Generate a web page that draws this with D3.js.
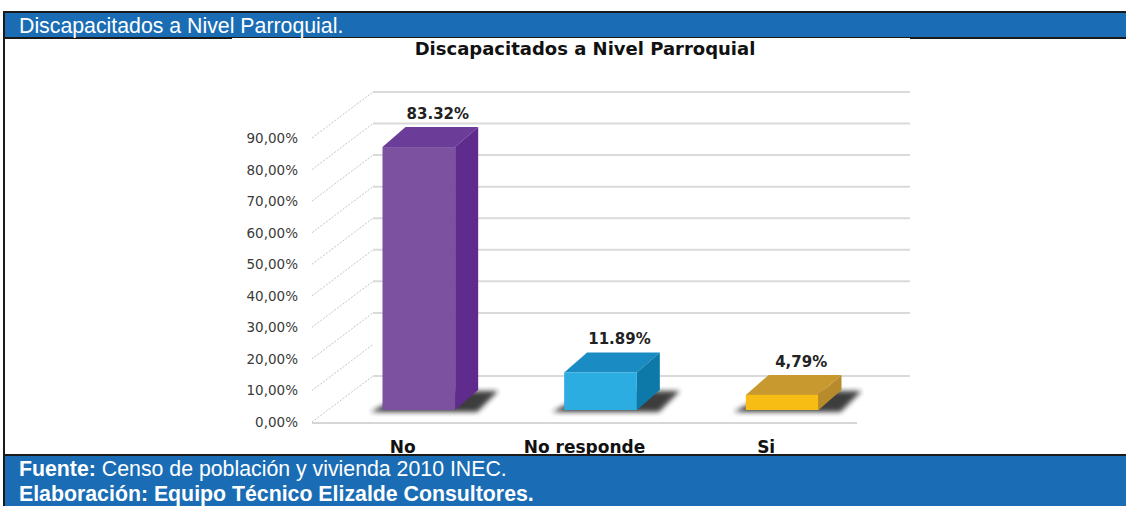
<!DOCTYPE html>
<html><head><meta charset="utf-8">
<script src="https://cdn.jsdelivr.net/npm/d3@7/dist/d3.min.js"></script>
<style>body{margin:0;background:#fff}svg{display:block}</style>
</head><body>
<script>
// ---- data ----
const categories = ["No", "No responde", "Si"];
const values = [83.32, 11.89, 4.79];
const valueLabels = ["83.32%", "11.89%", "4,79%"];
const tickValues = [0, 10, 20, 30, 40, 50, 60, 70, 80, 90];
const tickLabels = ["0,00%", "10,00%", "20,00%", "30,00%", "40,00%", "50,00%", "60,00%", "70,00%", "80,00%", "90,00%"];
const backGridValues = [0, 20, 30, 40, 50, 60, 70, 80, 90];
const chartTitle = "Discapacitados a Nivel Parroquial";
const headerText = "Discapacitados a Nivel Parroquial.";
const sourceLabel = "Fuente:";
const sourceText = " Censo de población y vivienda 2010 INEC.";
const creditText = "Elaboración: Equipo Técnico Elizalde Consultores.";

const faceColors = {
  "No": {front: "#7b51a0", top: "#6b3c98", side: "#5f2b8d"},
  "No responde": {front: "#2badE2", top: "#1a8bc3", side: "#0d79a9"},
  "Si": {front: "#f8bd14", top: "#c8992e", side: "#b78b2b"}
};

const W = 1126, H = 506;
const svg = d3.select("body").append("svg").attr("width", W).attr("height", H);

// ---- frame ----
const blue = "#1a6db5";
svg.append("rect").attr("x", 0).attr("y", 0).attr("width", W).attr("height", H).attr("fill", "#fff");
svg.append("rect").attr("x", 5).attr("y", 13).attr("width", W - 5).attr("height", 24).attr("fill", blue);
svg.append("rect").attr("x", 3).attr("y", 11).attr("width", W - 3).attr("height", 2).attr("fill", "#1a1a1a");
svg.append("rect").attr("x", 3).attr("y", 11).attr("width", 2).attr("height", H - 11).attr("fill", "#1a1a1a");
svg.append("rect").attr("x", 5).attr("y", 37).attr("width", W - 5).attr("height", 1).attr("fill", "#1a1a1a");
svg.append("rect").attr("x", 5).attr("y", 37).attr("width", 227).attr("height", 2).attr("fill", "#1a1a1a");
svg.append("rect").attr("x", 910).attr("y", 37).attr("width", W - 910).attr("height", 2).attr("fill", "#1a1a1a");
svg.append("text").attr("x", 19).attr("y", 33).attr("fill", "#fff")
  .style("font-family", "'Liberation Sans', Arial, sans-serif").style("font-size", "21.3px")
  .text(headerText);

// ---- chart geometry ----
const xFront = d3.scaleBand().domain(categories).range([312, 857]);
const yFront = d3.scaleLinear().domain([0, 90]).range([422, 138]);
const wallDepth = {dx: 61, dy: -46};
const barPlane = {dx: 16, dy: -12};
const barDepth = {dx: 23, dy: -20};
const barFrac = 0.4;
const backRight = 910;

const defs = svg.append("defs");
defs.append("filter").attr("id", "blur").attr("x", "-20%").attr("y", "-50%").attr("width", "140%").attr("height", "200%")
  .append("feGaussianBlur").attr("stdDeviation", 2.5);
defs.append("clipPath").attr("id", "chartClip")
  .append("rect").attr("x", 0).attr("y", 38).attr("width", W).attr("height", 416);

const g = svg.append("g").attr("clip-path", "url(#chartClip)");

// title
g.append("text").attr("x", 585).attr("y", 55).attr("text-anchor", "middle")
  .style("font-family", "'DejaVu Sans', sans-serif").style("font-weight", "bold").style("font-size", "18px")
  .attr("fill", "#111").text(chartTitle);

// back wall gridlines
g.selectAll("line.back").data(backGridValues).join("line")
  .attr("x1", 312 + wallDepth.dx).attr("x2", backRight)
  .attr("y1", d => yFront(d) + wallDepth.dy).attr("y2", d => yFront(d) + wallDepth.dy)
  .attr("stroke", "#dadada").attr("stroke-width", 2);

// left wall diagonals
g.selectAll("line.diag").data(tickValues).join("line")
  .attr("x1", 312).attr("y1", d => yFront(d))
  .attr("x2", 312 + wallDepth.dx).attr("y2", d => yFront(d) + wallDepth.dy)
  .attr("stroke", "#c4c4c4").attr("stroke-width", 1).attr("stroke-dasharray", "2,1.5");

// floor front edge
g.append("line").attr("x1", 312).attr("x2", 857).attr("y1", yFront(0) + 1).attr("y2", yFront(0) + 1)
  .attr("stroke", "#d6d6d6").attr("stroke-width", 2);

// tick labels
g.selectAll("text.tick").data(tickValues).join("text")
  .attr("x", 298).attr("y", d => yFront(d) + 5).attr("text-anchor", "end")
  .style("font-family", "'DejaVu Sans', sans-serif").style("font-size", "13.5px")
  .attr("fill", "#3a3a3a").text((d, i) => tickLabels[i]);

const bars = categories.map((c, i) => {
  const bw = xFront.bandwidth() * barFrac;
  const x0 = xFront(c) + (xFront.bandwidth() - bw) / 2 + barPlane.dx;
  const x1 = x0 + bw;
  const yb = yFront(0) + barPlane.dy;
  const yt = yFront(values[i]) + barPlane.dy;
  return {c, i, x0, x1, yb, yt};
});

// shadows
g.selectAll("polygon.shadow").data(bars).join("polygon")
  .attr("points", b => [
    [b.x0 - 12, b.yb + 2], [b.x1 + 22, b.yb + 2],
    [b.x1 + barDepth.dx + 20, b.yb + barDepth.dy + 1], [b.x0 + barDepth.dx + 4, b.yb + barDepth.dy + 1]
  ].map(p => p.join(",")).join(" "))
  .attr("fill", "#1e1e1e").attr("opacity", 0.85).attr("filter", "url(#blur)");

// bars: top, side, front
const bg = g.selectAll("g.bar").data(bars).join("g");
bg.append("polygon").attr("points", b => [
    [b.x0, b.yt], [b.x1, b.yt], [b.x1 + barDepth.dx, b.yt + barDepth.dy], [b.x0 + barDepth.dx, b.yt + barDepth.dy]
  ].map(p => p.join(",")).join(" ")).attr("fill", b => faceColors[b.c].top);
bg.append("polygon").attr("points", b => [
    [b.x1, b.yt], [b.x1 + barDepth.dx, b.yt + barDepth.dy], [b.x1 + barDepth.dx, b.yb + barDepth.dy], [b.x1, b.yb]
  ].map(p => p.join(",")).join(" ")).attr("fill", b => faceColors[b.c].side);
bg.append("rect").attr("x", b => b.x0).attr("y", b => b.yt).attr("width", b => b.x1 - b.x0)
  .attr("height", b => b.yb - b.yt).attr("fill", b => faceColors[b.c].front);

// value labels
g.selectAll("text.val").data(bars).join("text")
  .attr("x", b => (b.x0 + b.x1) / 2 + 19).attr("y", b => b.yt + barDepth.dy - 8)
  .attr("text-anchor", "middle")
  .style("font-family", "'DejaVu Sans', sans-serif").style("font-weight", "bold").style("font-size", "15px")
  .attr("fill", "#222").text(b => valueLabels[b.i]);

// category labels (cut off by the footer as in the source)
g.selectAll("text.cat").data(categories).join("text")
  .attr("x", d => xFront(d) + xFront.bandwidth() / 2).attr("y", 453).attr("text-anchor", "middle")
  .style("font-family", "'DejaVu Sans', sans-serif").style("font-weight", "bold").style("font-size", "17px")
  .attr("fill", "#111").text(d => d);

// ---- footer ----
svg.append("rect").attr("x", 5).attr("y", 455).attr("width", W - 5).attr("height", 51).attr("fill", blue);
svg.append("rect").attr("x", 5).attr("y", 454).attr("width", W - 5).attr("height", 2).attr("fill", "#1a1a1a");
const ft = svg.append("text").attr("x", 19).attr("y", 476).attr("fill", "#fff")
  .style("font-family", "'Liberation Sans', Arial, sans-serif").style("font-size", "21.3px");
ft.append("tspan").style("font-weight", "bold").text(sourceLabel);
ft.append("tspan").text(sourceText);
svg.append("text").attr("x", 19).attr("y", 501).attr("fill", "#fff")
  .style("font-family", "'Liberation Sans', Arial, sans-serif").style("font-size", "21.3px").style("font-weight", "bold")
  .text(creditText);
</script>
</body></html>
